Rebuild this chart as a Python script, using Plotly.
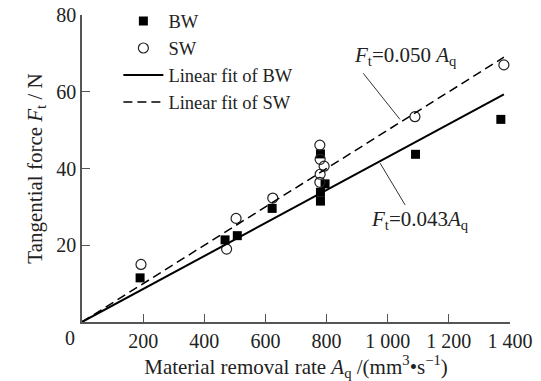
import plotly.graph_objects as go

# ---- data ----
bw_x = [190, 468, 508, 622, 780, 780, 780, 795, 1091, 1370]
bw_y = [11.5, 21.4, 22.5, 29.6, 43.8, 33.8, 31.5, 36.0, 43.7, 52.8]
sw_x = [193, 473, 504, 624, 778, 779, 792, 779, 778, 1089, 1380]
sw_y = [15.0, 19.0, 27.0, 32.3, 46.1, 42.4, 40.6, 38.5, 36.4, 53.5, 67.0]
fit_x = [0, 1380]
bw_fit_y = [0, 59.3]
sw_fit_y = [0, 69.0]
x_tickvals = [200, 400, 600, 800, 1000, 1200, 1400]
x_ticktext = ["200", "400", "600", "800", "1 000", "1 200", "1 400"]
y_tickvals = [20, 40, 60, 80]

FONT = "Liberation Serif"
TXT = "#222222"
AX = "#555555"

fig = go.Figure()
fig.add_trace(go.Scatter(x=bw_x, y=bw_y, mode="markers", name="BW",
                         marker=dict(symbol="square", size=9, color="black",
                                     line=dict(width=0))))
fig.add_trace(go.Scatter(x=sw_x, y=sw_y, mode="markers", name="SW",
                         marker=dict(symbol="circle-open", size=10, color="#222222",
                                     line=dict(width=1.2))))
fig.add_trace(go.Scatter(x=fit_x, y=bw_fit_y, mode="lines", name="Linear fit of BW",
                         line=dict(color="black", width=2)))
fig.add_trace(go.Scatter(x=fit_x, y=sw_fit_y, mode="lines", name="Linear fit of SW",
                         line=dict(color="black", width=1.5, dash="9px,5px")))

# leader lines for the equations
fig.add_shape(type="line", xref="x", yref="y", x0=920, y0=64.8, x1=1040, y1=52.8,
              line=dict(color="#333333", width=1))
fig.add_shape(type="line", xref="x", yref="y", x0=975, y0=41.4, x1=1057, y1=30.5,
              line=dict(color="#333333", width=1))

fig.add_annotation(x=1058, y=69.3, xref="x", yref="y", showarrow=False,
                   text="<i>F</i><sub>t</sub>=0.050 <i>A</i><sub>q</sub>",
                   font=dict(family=FONT, size=21, color=TXT))
fig.add_annotation(x=1104, y=26.6, xref="x", yref="y", showarrow=False,
                   text="<i>F</i><sub>t</sub>=0.043<i>A</i><sub>q</sub>",
                   font=dict(family=FONT, size=21, color=TXT))
# shared origin label
fig.add_annotation(x=-0.028, y=-0.052, xref="paper", yref="paper", showarrow=False,
                   text="0", xanchor="center", yanchor="middle",
                   font=dict(family=FONT, size=20, color=TXT))

fig.update_layout(
    width=541, height=381,
    margin=dict(l=82, r=31, t=15, b=59, autoexpand=False),
    paper_bgcolor="white", plot_bgcolor="white",
    font=dict(family=FONT, size=20, color=TXT),
    showlegend=True,
    legend=dict(x=0.085, y=1.041, xanchor="left", yanchor="top",
                bgcolor="rgba(0,0,0,0)", font=dict(family=FONT, size=18.5, color=TXT),
                tracegroupgap=0, itemwidth=40),
)
fig.update_xaxes(range=[0, 1400], tickvals=x_tickvals, ticktext=x_ticktext,
                 ticks="inside", ticklen=8, tickcolor=AX, tickwidth=1,
                 showline=True, linecolor=AX, linewidth=1.5, showgrid=False,
                 zeroline=False, tickfont=dict(family=FONT, size=20, color=TXT),
                 title=dict(text="Material removal rate <i>A</i><sub>q</sub> /(mm<sup>3</sup>•s<sup>−1</sup>)",
                            font=dict(family=FONT, size=21, color=TXT), standoff=4))
fig.update_yaxes(range=[0, 80], tickvals=y_tickvals,
                 ticks="inside", ticklen=8, tickcolor=AX, tickwidth=1,
                 showline=True, linecolor=AX, linewidth=1.5, showgrid=False,
                 zeroline=False, tickfont=dict(family=FONT, size=20, color=TXT),
                 title=dict(text="Tangential force <i>F</i><sub>t</sub> / N",
                            font=dict(family=FONT, size=21, color=TXT), standoff=8))

fig.write_html("out.html")
